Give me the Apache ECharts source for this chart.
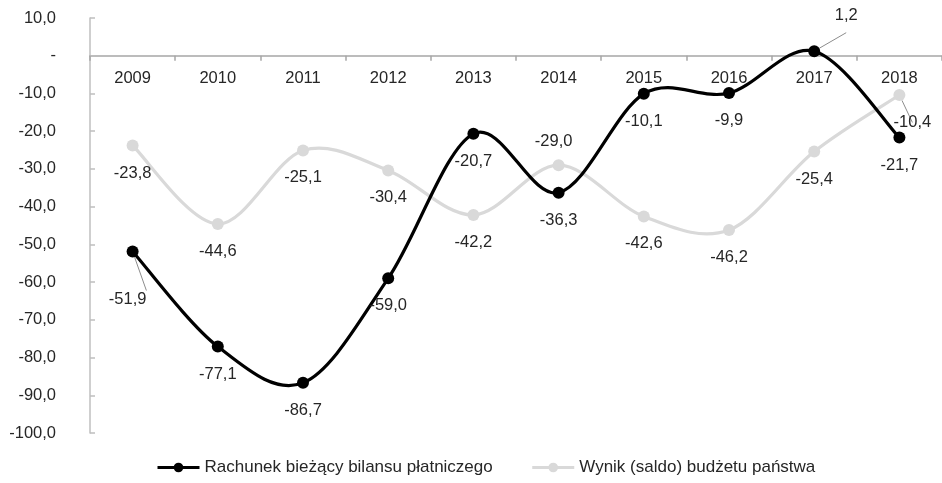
<!DOCTYPE html>
<html><head><meta charset="utf-8">
<script src="https://cdn.jsdelivr.net/npm/echarts@6/dist/echarts.min.js"></script>
<style>html,body{margin:0;padding:0;background:#fff}#c{width:942px;height:483px}</style>
</head><body><div id="c"></div>
<script>
var years = ['2009','2010','2011','2012','2013','2014','2015','2016','2017','2018'];
var currentAccount = [-51.9, -77.1, -86.7, -59.0, -20.7, -36.3, -10.1, -9.9, 1.2, -21.7];
var budgetBalance = [-23.8, -44.6, -25.1, -30.4, -42.2, -29.0, -42.6, -46.2, -25.4, -10.4];
var seriesNames = ['Rachunek bieżący bilansu płatniczego', 'Wynik (saldo) budżetu państwa'];
var yTicks = {min: -100, max: 10, interval: 10};

var FONT = 'Liberation Sans';
var FS = 16.5;
var BLACK = '#000000', GRAY = '#d9d9d9', TXT = '#262626';
function fmt(v){ return v === 0 ? '-' : v.toFixed(1).replace('.', ','); }

// per-point label placement overrides (style only)
var caLabelOpts = {0:{offset:[-5,20], line:true}, 8:{pos:'top', offset:[32,-8], line:true}};
var bbLabelOpts = {5:{pos:'top', offset:[-5,4]}, 9:{offset:[13,0], line:true}};

function build(values, opts){
  return values.map(function(v,i){
    var o = opts[i];
    var item = {value: v};
    if (o){
      item.label = {position: o.pos || 'bottom', offset: o.offset};
      if (o.line) item.labelLine = {show: true, lineStyle:{color:'#8c8c8c', width:1}};
    }
    return item;
  });
}

// Excel-like smoothed segment (Catmull-Rom -> Bezier) via the chart's own coordinate system
function curveSeries(values, color, z){
  return {
    type: 'custom', z: z, silent: true,
    data: values.map(function(v,i){ return [i, v]; }),
    encode: {x: 0, y: 1},
    renderItem: function(params, api){
      var i = params.dataIndex, n = values.length;
      if (i >= n - 1) return null;
      function P(k){ k = Math.max(0, Math.min(n-1, k)); return api.coord([k, values[k]]); }
      var p0 = P(i-1), p1 = P(i), p2 = P(i+1), p3 = P(i+2);
      var t = 1/6;
      return {
        type: 'bezierCurve',
        shape: {
          x1: p1[0], y1: p1[1], x2: p2[0], y2: p2[1],
          cpx1: p1[0] + (p2[0]-p0[0])*t, cpy1: p1[1] + (p2[1]-p0[1])*t,
          cpx2: p2[0] - (p3[0]-p1[0])*t, cpy2: p2[1] - (p3[1]-p1[1])*t
        },
        style: {stroke: color, lineWidth: 3.2, fill: null, lineCap: 'round'}
      };
    }
  };
}

function pointSeries(name, values, opts, color, z){
  return {
    name: name, type: 'line', z: z,
    data: build(values, opts),
    symbol: 'circle', symbolSize: 12,
    itemStyle: {color: color},
    lineStyle: {color: color, width: 3.2, opacity: 0},
    label: {show: true, position: 'bottom', distance: 13, fontSize: FS, color: TXT, fontFamily: FONT,
            formatter: function(p){ return fmt(p.value); }}
  };
}

var gridTop = 18, gridH = 415;
var zeroOffset = -gridH * (yTicks.max - 0) / (yTicks.max - yTicks.min);

var chart = echarts.init(document.getElementById('c'));
chart.setOption({
  animation: false,
  textStyle: {fontFamily: FONT},
  grid: {left: 90, top: gridTop, width: 858, height: gridH},
  legend: {
    bottom: 2, left: 151, itemGap: 38, itemWidth: 42, itemHeight: 12,
    textStyle: {fontFamily: FONT, fontSize: 17, color: TXT},
    data: [
      {name: seriesNames[0], lineStyle: {opacity: 1, color: BLACK, width: 3}},
      {name: seriesNames[1], lineStyle: {opacity: 1, color: GRAY, width: 3}}
    ]
  },
  xAxis: {
    type: 'category', data: years, position: 'top', offset: zeroOffset,
    axisLine: {onZero: false, lineStyle: {color: '#a6a6a6', width: 1.5}},
    axisTick: {show: true, inside: true, length: 5, lineStyle: {color: '#a6a6a6', width: 1.5}},
    axisLabel: {inside: true, margin: 14, fontSize: FS, color: TXT, fontFamily: FONT},
    splitLine: {show: false}
  },
  yAxis: {
    type: 'value', min: yTicks.min, max: yTicks.max, interval: yTicks.interval,
    axisLine: {show: true, lineStyle: {color: '#bfbfbf', width: 1.5}},
    axisTick: {show: true, inside: true, length: 5, lineStyle: {color: '#bfbfbf', width: 1.5}},
    axisLabel: {margin: 34, fontSize: FS, color: TXT, fontFamily: FONT, formatter: fmt},
    splitLine: {show: false}
  },
  series: [
    curveSeries(budgetBalance, GRAY, 2),
    pointSeries(seriesNames[1], budgetBalance, bbLabelOpts, GRAY, 3),
    curveSeries(currentAccount, BLACK, 4),
    pointSeries(seriesNames[0], currentAccount, caLabelOpts, BLACK, 5)
  ]
});
</script></body></html>
